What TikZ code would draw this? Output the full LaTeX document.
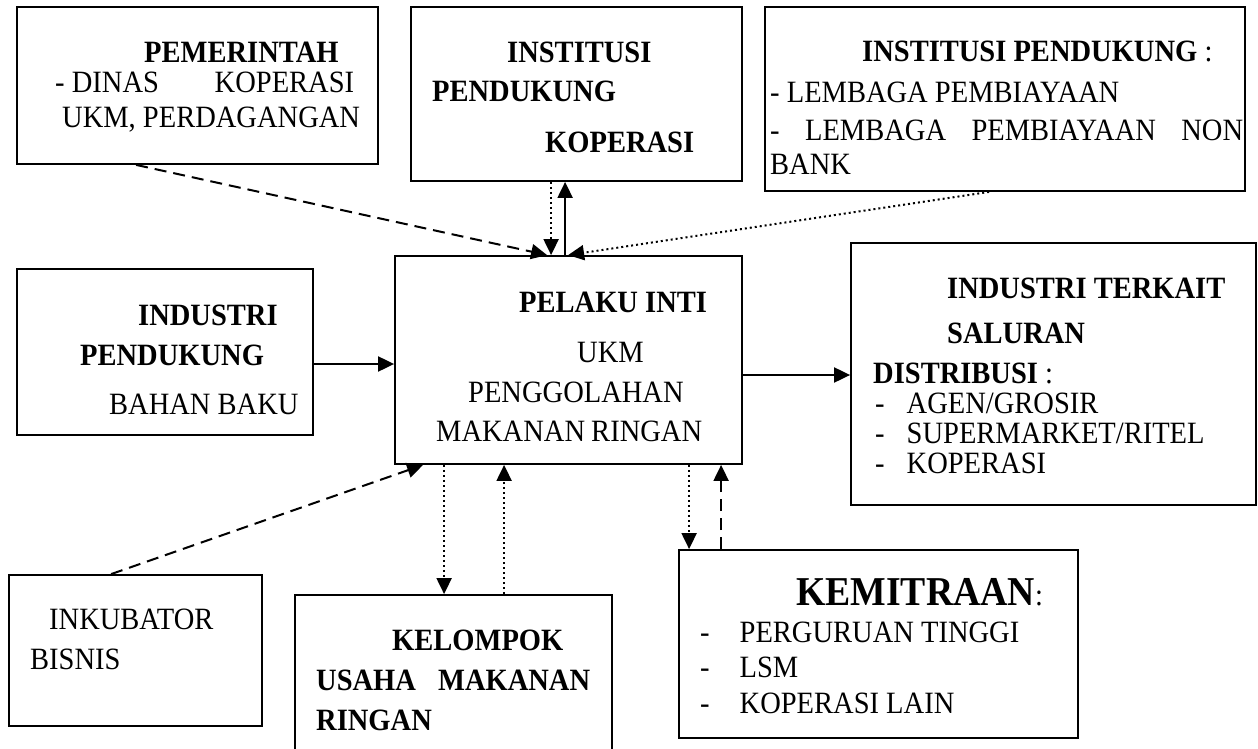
\documentclass[tikz,border=0pt]{standalone}
\usepackage{fontspec}
\setmainfont{Liberation Serif}[FakeStretch=0.92]
\usetikzlibrary{arrows.meta}

\begin{document}
\begin{tikzpicture}[x=1pt,y=-1pt,>={Triangle[length=16pt,width=15pt]},font=\fontsize{31}{36}\selectfont]
        \tikzstyle{box}=[draw=black,line width=1.8pt,inner sep=0pt]
        \tikzstyle{txt}=[anchor=base west,inner sep=0pt]
        \tikzstyle{solidarr}=[->,draw=black,line width=2pt]
        \tikzstyle{dasharr}=[->,draw=black,line width=2pt,dash pattern=on 12pt off 7pt]
        \tikzstyle{dotarr}=[->,draw=black,line width=2pt,dash pattern=on 2pt off 3pt]
        \useasboundingbox (0,0) rectangle (1258,749);

        % boxes
        \node [box,minimum width=361pt,minimum height=157pt] (pem)  at (197.5,85.5) {};
        \node [box,minimum width=331pt,minimum height=174pt] (ipk)  at (576.5,94) {};
        \node [box,minimum width=480pt,minimum height=184pt] (ipd)  at (1005,99) {};
        \node [box,minimum width=296pt,minimum height=166pt] (ind)  at (165,352) {};
        \node [box,minimum width=347pt,minimum height=208pt] (inti) at (568.5,360) {};
        \node [box,minimum width=405pt,minimum height=262pt] (terk) at (1053.5,374) {};
        \node [box,minimum width=253pt,minimum height=151pt] (inku) at (135.5,650.5) {};
        \node [box,minimum width=317pt,minimum height=175pt] (kel)  at (453.5,682.5) {};
        \node [box,minimum width=399pt,minimum height=188pt] (kem)  at (878.5,644) {};

        % texts
        \node [txt] (pem1) at (144,63) {\bfseries PEMERINTAH};
        \node [txt] (pem2) at (55,93) {\hbox to 299pt{- DINAS\hfill KOPERASI}};
        \node [txt] (pem3) at (62,128) {UKM, PERDAGANGAN};

        \node [txt] (ipk1) at (507,63) {\bfseries INSTITUSI};
        \node [txt] (ipk2) at (432,102) {\bfseries PENDUKUNG};
        \node [txt] (ipk3) at (545,153) {\bfseries KOPERASI};

        \node [txt] (ipd1) at (862,62) {{\bfseries INSTITUSI PENDUKUNG} :};
        \node [txt] (ipd2) at (770,103) {- LEMBAGA PEMBIAYAAN};
        \node [txt] (ipd3) at (770,140) {\hbox to 473pt{-\hfill LEMBAGA\hfill PEMBIAYAAN\hfill NON}};
        \node [txt] (ipd4) at (770,175) {BANK};

        \node [txt] (ind1) at (138,325) {\bfseries INDUSTRI};
        \node [txt] (ind2) at (80,365) {\bfseries PENDUKUNG};
        \node [txt] (ind3) at (109,414) {BAHAN BAKU};

        \node [txt] (inti1) at (519,312) {\bfseries PELAKU INTI};
        \node [txt] (inti2) at (577,362) {UKM};
        \node [txt] (inti3) at (468,402) {PENGGOLAHAN};
        \node [txt] (inti4) at (436,441) {\hbox to 266pt{MAKANAN\hfill RINGAN}};

        \node [txt] (terk1) at (947,298) {\bfseries INDUSTRI TERKAIT};
        \node [txt] (terk2) at (947,343) {\bfseries SALURAN};
        \node [txt] (terk3) at (873,383) {{\bfseries DISTRIBUSI} :};
        \node [txt] (terk4) at (875,413) {-\hspace{22pt}AGEN/GROSIR};
        \node [txt] (terk5) at (875,443) {-\hspace{22pt}SUPERMARKET/RITEL};
        \node [txt] (terk6) at (875,473) {-\hspace{22pt}KOPERASI};

        \node [txt] (inku1) at (49,629) {INKUBATOR};
        \node [txt] (inku2) at (30,669) {BISNIS};

        \node [txt] (kel1) at (392,650) {\bfseries KELOMPOK};
        \node [txt] (kel2) at (316,690) {\bfseries\hbox to 274pt{USAHA\hfill MAKANAN}};
        \node [txt] (kel3) at (316,730) {\bfseries RINGAN};

        \node [txt] (kem1) at (796,605) {{\fontsize{41}{44}\selectfont\bfseries KEMITRAAN}:};
        \node [txt] (kem2) at (700,642) {-\hspace{30pt}PERGURUAN TINGGI};
        \node [txt] (kem3) at (700,677) {-\hspace{30pt}LSM};
        \node [txt] (kem4) at (700,713) {-\hspace{30pt}KOPERASI LAIN};

        % connectors
        \draw[dasharr] ([xshift=120pt]pem.south west) -- ([xshift=153pt]inti.north west);
        \draw[dotarr] ([xshift=141pt]ipk.south west) -- ([xshift=157pt]inti.north west);
        \draw[solidarr] ([xshift=171pt]inti.north west) -- ([xshift=155pt]ipk.south west);
        \draw[dotarr] ([xshift=225pt]ipd.south west) -- ([xshift=174pt]inti.north west);
        \draw[solidarr] ([yshift=-12pt]ind.east) -- ([yshift=-12pt]ind.east -| inti.west);
        \draw[solidarr] ([yshift=-15pt]inti.east) -- ([yshift=-15pt]inti.east -| terk.west);
        \draw[dasharr] ([xshift=103pt]inku.north west) -- ([xshift=29pt]inti.south west);
        \draw[dotarr] ([xshift=50pt]inti.south west) -- ([xshift=50pt]inti.south west |- kel.north);
        \draw[dotarr] ([xshift=210pt]kel.north west) -- ([xshift=210pt]kel.north west |- inti.south);
        \draw[dotarr] ([xshift=295pt]inti.south west) -- ([xshift=295pt]inti.south west |- kem.north);
        \draw[dasharr] ([xshift=43pt]kem.north west) -- ([xshift=43pt]kem.north west |- inti.south);
\end{tikzpicture}
\end{document}
